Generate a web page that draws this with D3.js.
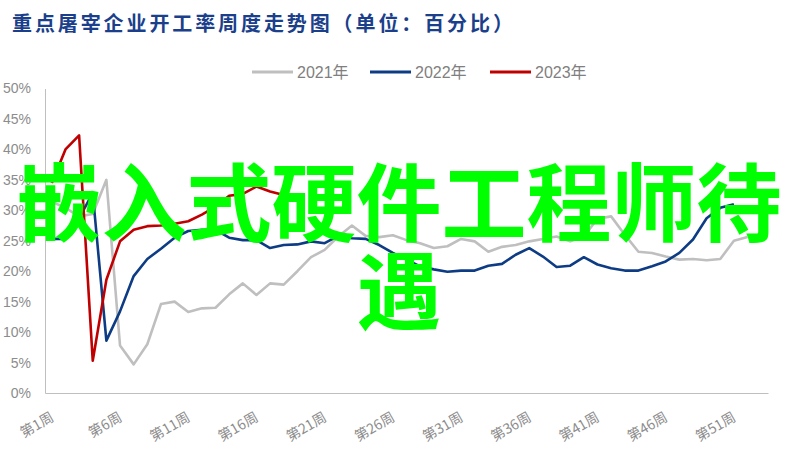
<!DOCTYPE html>
<html><head><meta charset="utf-8">
<script src="https://cdn.jsdelivr.net/npm/d3@7/dist/d3.min.js"></script>
<style>
html,body{margin:0;padding:0;background:#fff;}
svg{display:block;}
</style></head>
<body>
<svg id="chart" width="793" height="461"></svg>
<script>
const title = "重点屠宰企业开工率周度走势图（单位：百分比）";
const overlayLines = ["嵌入式硬件工程师待", "遇"];
const weeks = ["第1周","第2周","第3周","第4周","第5周","第6周","第7周","第8周","第9周","第10周",
"第11周","第12周","第13周","第14周","第15周","第16周","第17周","第18周","第19周","第20周",
"第21周","第22周","第23周","第24周","第25周","第26周","第27周","第28周","第29周","第30周",
"第31周","第32周","第33周","第34周","第35周","第36周","第37周","第38周","第39周","第40周",
"第41周","第42周","第43周","第44周","第45周","第46周","第47周","第48周","第49周","第50周",
"第51周","第52周","第53周"];
const tickLabels = ["第1周","第6周","第11周","第16周","第21周","第26周","第31周","第36周","第41周","第46周","第51周"];
const yTicks = [0,5,10,15,20,25,30,35,40,45,50];
const seriesNames = ["2021年","2022年","2023年"];
const values2021 = [31.4,30.4,29,29.4,35,7.8,4.7,8,14.6,15,13.3,13.9,14,16.2,18,16.1,18,17.8,20,22.3,23.5,25.7,27.5,25.8,25.6,25.9,25.1,24.6,23.8,24.1,25.3,24.9,23.2,24,24.3,24.9,25.3,25.7,24.9,25.7,28.6,29,26,23.2,23,22.4,21.9,22,21.8,22,25,25.6];
const values2022 = [25.3,25.3,28.7,32.8,8.6,13.4,19.2,22,23.7,25.5,26.6,26.8,26.8,25.5,25.1,25.1,23.8,24.3,24.4,24.9,24.6,25.8,25.4,25.3,24.3,23,21.9,20.8,20.3,19.9,20.1,20.1,20.9,21.2,22.7,23.8,22.4,20.7,20.9,22.3,21.1,20.5,20.1,20.1,20.8,21.6,23,25.2,28.7,30.4,31];
const values2023 = [34.5,40,42.3,5.3,18.6,24.9,26.8,27.4,27.5,27.8,28.2,29.3,30.6,32.4,32.7,33.9,33.1,32.5];
const colors = ["#bfbfbf","#0d3c85","#c00000"];

const svg = d3.select("#chart");
const plotLeft = 45, plotRight = 768, plotTop = 88.5, plotBottom = 393;

const x = d3.scaleBand().domain(weeks).range([plotLeft, plotRight]);
const y = d3.scaleLinear().domain([0, 50]).range([plotBottom, plotTop]);
const xc = w => x(w) + x.bandwidth() / 2;

// title
svg.append("text").attr("x", 12).attr("y", 31)
  .attr("font-family", "'Noto Sans CJK SC', sans-serif").attr("font-weight", "bold")
  .attr("font-size", 20).attr("letter-spacing", 2.9).attr("fill", "#1b3f8b").text(title);

// legend
const lg = svg.append("g");
const legX = [252, 370, 490];
seriesNames.forEach((n, i) => {
  lg.append("line").attr("x1", legX[i]).attr("x2", legX[i] + 41).attr("y1", 72).attr("y2", 72)
    .attr("stroke", colors[i]).attr("stroke-width", 3);
  lg.append("text").attr("x", legX[i] + 45).attr("y", 72).attr("dy", "0.36em")
    .attr("font-family", "'Liberation Sans','Noto Sans CJK SC',sans-serif")
    .attr("font-size", 16).attr("fill", "#7f7f7f").text(n);
});

// y axis
const yAxis = svg.append("g").attr("transform", `translate(${plotLeft},0)`)
  .call(d3.axisLeft(y).tickValues(yTicks).tickFormat(d => d + "%").tickSize(0).tickPadding(14));
yAxis.select(".domain").attr("stroke", "#bfbfbf").attr("stroke-width", 1);
yAxis.selectAll("text").attr("font-family", "'Liberation Sans',Arial,sans-serif")
  .attr("font-size", 14).attr("fill", "#8c8c8c");

// x axis
const xAxis = svg.append("g").attr("transform", `translate(0,${plotBottom})`)
  .call(d3.axisBottom(x).tickValues(tickLabels).tickSize(0));
xAxis.select(".domain").attr("stroke", "#bfbfbf").attr("stroke-width", 1);
xAxis.selectAll("text")
  .attr("font-family", "'Noto Sans CJK SC',sans-serif").attr("font-size", 14).attr("fill", "#8c8c8c")
  .attr("text-anchor", "end").attr("dy", null).attr("y", null)
  .attr("transform", "translate(3,27) rotate(-30)");

// lines
const line = d3.line().x((d, i) => xc(weeks[i])).y(d => y(d));
[values2021, values2022, values2023].forEach((vals, i) => {
  svg.append("path").datum(vals).attr("d", line).attr("fill", "none")
    .attr("stroke", colors[i]).attr("stroke-width", 2.6).attr("stroke-linejoin", "round");
});

// overlay text
overlayLines.forEach((t, i) => {
  svg.append("text").attr("x", 399).attr("y", 197 + i * 88).attr("dominant-baseline", "central")
    .attr("text-anchor", "middle").attr("font-family", "'Noto Sans CJK SC',sans-serif")
    .attr("font-weight", "bold").attr("font-size", 85).attr("fill", "#00ff00").text(t);
});
</script>
</body></html>
